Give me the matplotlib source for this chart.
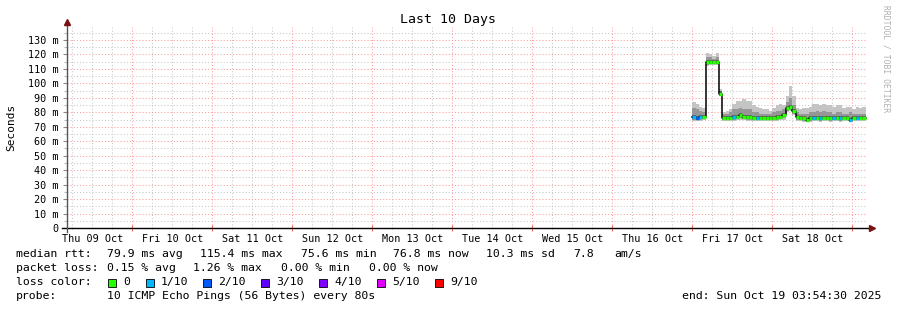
import numpy as np
import matplotlib
matplotlib.use("Agg")
import matplotlib.pyplot as plt
from matplotlib.ticker import FixedLocator, FixedFormatter

plt.rcParams['font.family'] = ['DejaVu Sans Mono']

# hours since Thu 09 Oct 00:00, one bin per hour starting Fri 17 Oct 00:00
t0 = 192
median = [77, 76, 77, 77,
          115, 115, 115, 115,
          93,
          76, 76, 76, 77, 77, 78, 77, 77, 77, 76,
          76, 76, 76, 76, 76, 76, 77, 77, 78,
          83, 84, 81,
          77, 76, 76, 75, 76, 76, 76, 76, 76, 76, 76, 76, 76, 76, 76, 76, 75, 76, 76, 76, 76]
smoke_hi = [87, 86, 84, 83,
            121, 120, 119, 121,
            96,
            80, 81, 82, 86, 88, 88, 89, 88, 88, 85,
            84, 83, 82, 82, 81, 83, 85, 86, 85,
            91, 98, 91,
            83, 82, 83, 83, 84, 86, 86, 85, 86, 85, 85, 84, 85, 85, 83, 84, 84, 82, 84, 83, 84]
smoke_mid = [83, 82, 81, 80,
             118, 118, 117, 118,
             95,
             79, 79, 80, 82, 82, 83, 82, 82, 82, 80,
             80, 79, 79, 79, 79, 80, 81, 81, 82,
             87, 90, 85,
             80, 79, 79, 79, 80, 80, 81, 80, 81, 80, 80, 79, 80, 80, 79, 79, 80, 79, 79, 79, 79]
smoke_lo = [74, 74, 74, 75,
            112, 113, 113, 113,
            91,
            74, 74, 74, 74, 75, 75, 75, 74, 74, 74,
            74, 74, 74, 74, 74, 74, 74, 75, 75,
            80, 81, 78,
            74, 74, 73, 73, 73, 74, 74, 73, 74, 74, 73, 74, 74, 73, 74, 74, 73, 74, 74, 74, 74]
loss = [1, 2, 1, 0,
        0, 0, 0, 0,
        0,
        0, 0, 0, 1, 0, 0, 0, 0, 0, 0,
        1, 0, 0, 0, 0, 0, 0, 0, 0,
        0, 0, 0,
        0, 0, 0, 0, 0, 1, 0, 1, 0, 0, 0, 1, 0, 1, 0, 0, 1, 0, 1, 0, 0]

loss_labels = ["0", "1/10", "2/10", "3/10", "4/10", "5/10", "9/10"]
loss_colors = ["#26ff00", "#00b8ff", "#0059ff", "#5e00ff", "#7e00ff", "#dd00ff", "#ff0000"]
day_labels = ["Thu 09 Oct", "Fri 10 Oct", "Sat 11 Oct", "Sun 12 Oct", "Mon 13 Oct",
              "Tue 14 Oct", "Wed 15 Oct", "Thu 16 Oct", "Fri 17 Oct", "Sat 18 Oct"]
y_ticks = list(range(0, 140, 10))

W, H = 897, 310
fig = plt.figure(figsize=(W / 100, H / 100), dpi=100)
ax = fig.add_axes([66.7 / W, 1 - 228 / H, 800 / W, 201 / H])
ax.set_xlim(4.3, 244.3)
ax.set_ylim(0, 139)

# grid
grid_ls = (0, (1, 2))
for h in range(6, 246, 6):
    if h % 24:
        ax.axvline(h, color="#c8c8c8", lw=0.75, ls=grid_ls, zorder=0)
for h in range(24, 246, 24):
    ax.axvline(h, color="#ff9a9a", lw=0.75, ls=grid_ls, zorder=0)
for v in range(5, 140, 10):
    ax.axhline(v, color="#c8c8c8", lw=0.75, ls=grid_ls, zorder=0)
for v in range(10, 140, 10):
    ax.axhline(v, color="#ff9a9a", lw=0.75, ls=grid_ls, zorder=0)

# smoke
n = len(median)
edges = np.arange(n + 1) + t0


def ext(a):
    return list(a) + [a[-1]]


ax.fill_between(edges, ext(smoke_lo), ext(smoke_hi), step="post", color="#c4c4c4", lw=0, zorder=2)
ax.fill_between(edges, ext([v + 0.8 for v in smoke_lo]), ext(smoke_mid), step="post",
                color="#969696", lw=0, zorder=3)
med_lo = [m - 1.5 for m in median]
med_hi = [m + 1.4 for m in median]
ax.fill_between(edges, ext(med_lo), ext(med_hi), step="post", color="#606060", lw=0, zorder=4)

# median line
ax.step(edges, ext(median), where="post", color="black", lw=1.1, zorder=5)
for i in range(n):
    ax.plot([edges[i], edges[i + 1]], [median[i], median[i]], color=loss_colors[loss[i]],
            lw=2.4, solid_capstyle="butt", zorder=6)

# axes
for s in ax.spines.values():
    s.set_visible(False)
ax.plot([-0.006, 1.004], [0, 0], transform=ax.transAxes, color="black", lw=1, clip_on=False, zorder=7)
ax.plot([0, 0], [-0.02, 1.01], transform=ax.transAxes, color="#555555", lw=1, clip_on=False, zorder=7)
ax.plot([1.006], [0], transform=ax.transAxes, marker=">", color="#7a1010", ms=4, clip_on=False, zorder=8)
ax.plot([0], [1.025], transform=ax.transAxes, marker="^", color="#7a1010", ms=4, clip_on=False, zorder=8)
ax.plot(list(range(24, 246, 24)), [0] * 10, ls="none", marker="|", ms=4, mew=0.8,
        color="#ff6060", clip_on=False, zorder=6)

ax.xaxis.set_major_locator(FixedLocator([12 + 24 * i for i in range(len(day_labels))]))
ax.xaxis.set_major_formatter(FixedFormatter(day_labels))
ax.set_xticks([h for h in range(6, 246, 6) if h % 24], minor=True)
ax.tick_params(axis="x", which="major", length=0, pad=4, labelsize=7.3)
ax.tick_params(axis="x", which="minor", length=2, direction="inout", color="#b0b0b0", width=0.8)
ax.set_yticks(y_ticks, labels=["0"] + [f"{v} m" for v in y_ticks[1:]])
ax.set_yticks(range(5, 140, 10), minor=True)
ax.tick_params(axis="y", which="major", length=3, color="#888888", width=0.8, pad=3, labelsize=7.3)
ax.tick_params(axis="y", which="minor", length=2, color="#bbbbbb", width=0.8)
ax.set_ylabel("Seconds", fontsize=8)
ax.yaxis.set_label_coords(-0.063, 0.5)


def ftxt(x, y, s, size=8.25, **kw):
    fig.text(x / W, 1 - y / H, s, va="center", fontsize=size, **kw)


ftxt(448, 20, "Last 10 Days", size=9.5, ha="center")
fig.text(886 / W, 1 - 5 / H, "RRDTOOL / TOBI OETIKER", rotation=270, ha="center", va="top",
         fontsize=5.8, color="#b0b0b0")

row1 = [(16, "median rtt:"), (107, "79.9 ms avg"), (200, "115.4 ms max"), (301, "75.6 ms min"),
        (393, "76.8 ms now"), (486, "10.3 ms sd"), (573, "7.8"), (614, "am/s")]
row2 = [(16, "packet loss:"), (107, "0.15 % avg"), (193, "1.26 % max"), (281, "0.00 % min"),
        (369, "0.00 % now")]
for x, s in row1:
    ftxt(x, 254, s)
for x, s in row2:
    ftxt(x, 268, s)
ftxt(16, 282, "loss color:")
sq_x = [108, 146, 203, 261, 319, 377, 435]
for x, lab, col in zip(sq_x, loss_labels, loss_colors):
    fig.patches.append(plt.Rectangle((x / W, 1 - 286.5 / H), 8 / W, 8 / H, transform=fig.transFigure,
                                     facecolor=col, edgecolor="black", lw=0.6))
    ftxt(x + 15, 282, lab)
ftxt(16, 296, "probe:")
ftxt(107, 296, "10 ICMP Echo Pings (56 Bytes) every 80s")
ftxt(881, 296, "end: Sun Oct 19 03:54:30 2025", ha="right")

fig.savefig("out.png", dpi=100)
